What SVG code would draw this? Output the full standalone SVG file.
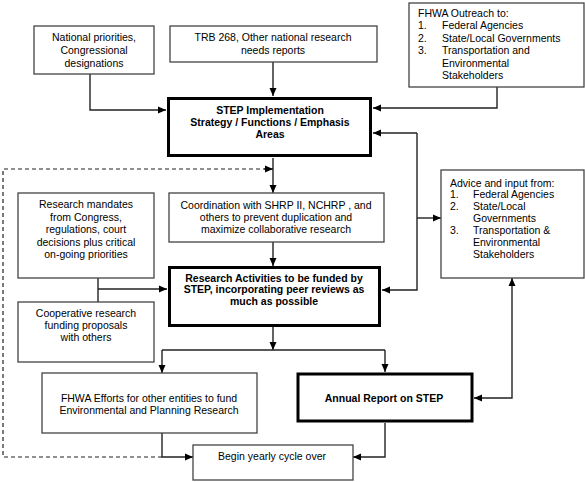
<svg xmlns="http://www.w3.org/2000/svg" width="585" height="482" viewBox="0 0 585 482">
<style>
.box{fill:#fff;stroke:#444;stroke-width:1.3}
.thick{fill:#fff;stroke:#000;stroke-width:3}
text{font-family:"Liberation Sans",Arial,sans-serif;font-size:10.5px;fill:#000}
.c{text-anchor:middle}
.b{font-weight:bold}
.ln{fill:none;stroke:#222;stroke-width:1.4}
.dash{fill:none;stroke:#222;stroke-width:1.2;stroke-dasharray:4,3}
</style>
<defs>
<marker id="ah" markerUnits="userSpaceOnUse" markerWidth="8" markerHeight="8" viewBox="0 0 8 8" refX="8" refY="4" orient="auto-start-reverse">
<path d="M0,0.5 L8,4 L0,7.5 Z" fill="#000"/>
</marker>
</defs>
<g id="connectors">
<path class="ln" d="M90,74 V110 H166" marker-end="url(#ah)"/>
<path class="ln" d="M273,62 V96" marker-end="url(#ah)"/>
<path class="ln" d="M497,87 V108 H373" marker-end="url(#ah)"/>
<path class="ln" d="M417,133 H373" marker-end="url(#ah)"/>
<path class="ln" d="M417,133 V290 H382" marker-end="url(#ah)"/>
<path class="ln" d="M417,218 H441" marker-end="url(#ah)"/>
<path class="ln" d="M273,158 V193" marker-end="url(#ah)"/>
<path class="dash" d="M162,457 H3 V169 H266"/>
<path class="ln" d="M264,169 H273" marker-end="url(#ah)"/>
<path class="ln" d="M273,242 V266" marker-end="url(#ah)"/>
<path class="ln" d="M273,327 V350" marker-end="url(#ah)"/>
<path class="ln" d="M162,350 H385"/>
<path class="ln" d="M162,350 V373" marker-end="url(#ah)"/>
<path class="ln" d="M385,350 V372" marker-end="url(#ah)"/>
<path class="ln" d="M98,278 V302"/>
<path class="ln" d="M98,289 H167" marker-end="url(#ah)"/>
<path class="ln" d="M162,433 V457 H193" marker-end="url(#ah)"/>
<path class="ln" d="M385,423 V457 H353" marker-end="url(#ah)"/>
<path class="ln" d="M512,278 V398 H474" marker-start="url(#ah)" marker-end="url(#ah)"/>
</g>
<g id="national">
<rect class="box" x="34" y="26" width="120" height="48"/>
<text class="c" x="94" y="41">National priorities,</text>
<text class="c" x="94" y="54">Congressional</text>
<text class="c" x="94" y="67">designations</text>
</g>
<g id="trb">
<rect class="box" x="170" y="26" width="207" height="36"/>
<text class="c" x="273" y="41">TRB 268, Other national research</text>
<text class="c" x="273" y="54">needs reports</text>
</g>
<g id="outreach">
<rect class="box" x="409" y="3" width="175" height="84"/>
<text x="418" y="17">FHWA Outreach to:</text>
<text x="418" y="29">1.</text><text x="442" y="29">Federal Agencies</text>
<text x="418" y="42">2.</text><text x="442" y="42">State/Local Governments</text>
<text x="418" y="54">3.</text><text x="442" y="54">Transportation and</text>
<text x="442" y="67">Environmental</text>
<text x="442" y="79">Stakeholders</text>
</g>
<g id="step">
<rect class="thick" x="168.5" y="98.5" width="202" height="57"/>
<text class="c b" x="270" y="114">STEP Implementation</text>
<text class="c b" x="270" y="126">Strategy / Functions / Emphasis</text>
<text class="c b" x="270" y="138">Areas</text>
</g>
<g id="coordination">
<rect class="box" x="169" y="193" width="215" height="49"/>
<text class="c" x="276" y="209">Coordination with SHRP II, NCHRP , and</text>
<text class="c" x="276" y="221">others to prevent duplication and</text>
<text class="c" x="276" y="233">maximize collaborative research</text>
</g>
<g id="advice">
<rect class="box" x="441" y="170" width="143" height="108"/>
<text x="450" y="187">Advice and input from:</text>
<text x="450" y="198">1.</text><text x="473" y="198">Federal Agencies</text>
<text x="450" y="210">2.</text><text x="473" y="210">State/Local</text>
<text x="473" y="222">Governments</text>
<text x="450" y="234">3.</text><text x="473" y="234">Transportation &amp;</text>
<text x="473" y="246">Environmental</text>
<text x="473" y="258">Stakeholders</text>
</g>
<g id="mandates">
<rect class="box" x="18" y="193" width="136" height="85"/>
<text class="c" x="86" y="208">Research mandates</text>
<text class="c" x="86" y="221">from Congress,</text>
<text class="c" x="86" y="233">regulations, court</text>
<text class="c" x="86" y="246">decisions plus critical</text>
<text class="c" x="86" y="258">on-going priorities</text>
</g>
<g id="cooperative">
<rect class="box" x="18" y="302" width="136" height="60"/>
<text class="c" x="86" y="317">Cooperative research</text>
<text class="c" x="86" y="329">funding proposals</text>
<text class="c" x="86" y="341">with others</text>
</g>
<g id="research">
<rect class="thick" x="169.5" y="267.5" width="210" height="58"/>
<text class="c b" x="274" y="282">Research Activities to be funded by</text>
<text class="c b" x="274" y="293">STEP, incorporating peer reviews as</text>
<text class="c b" x="274" y="305">much as possible</text>
</g>
<g id="fhwa-efforts">
<rect class="box" x="42" y="373" width="215" height="60"/>
<text class="c" x="149" y="402">FHWA Efforts for other entities to fund</text>
<text class="c" x="149" y="414">Environmental and Planning Research</text>
</g>
<g id="annual">
<rect class="thick" x="298" y="374" width="174" height="47"/>
<text class="c b" x="384" y="402">Annual Report on STEP</text>
</g>
<g id="begin">
<rect class="box" x="193" y="445" width="160" height="35"/>
<text class="c" x="272" y="460">Begin yearly cycle over</text>
</g>
</svg>
